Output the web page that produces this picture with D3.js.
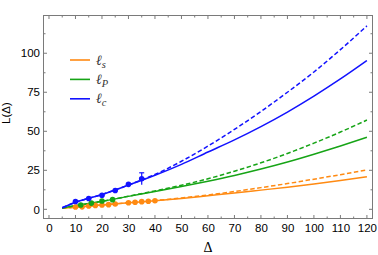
<!DOCTYPE html>
<html>
<head>
<meta charset="utf-8">
<script src="https://cdn.jsdelivr.net/npm/d3@7"></script>
<style>
  html, body { margin: 0; padding: 0; background: #fff; }
  svg { display: block; }
</style>
</head>
<body>
<div id="chart"></div>
<script>
// curves, sampled by eye off the reference
const deltaGrid = [5, 10, 20, 30, 40, 50, 60, 70, 80, 90, 100, 110, 120]
const blueSolid = [1.0, 4.5, 9.5, 15.5, 21.8, 28.8, 36.7, 44.5, 53.0, 62.3, 72.5, 83.5, 95.3]
const blueDashed = [1.0, 4.5, 9.5, 15.6, 22.3, 30.8, 40.5, 51.2, 62.7, 75.0, 88.0, 102.3, 117.5]
const greenSolid = [0.9, 2.3, 5.1, 8.3, 11.4, 14.6, 18.0, 21.7, 25.8, 30.3, 35.3, 40.6, 46.2]
const greenDashed = [0.9, 2.3, 5.1, 8.4, 11.8, 15.4, 19.6, 24.4, 29.8, 35.8, 42.4, 49.5, 57.2]
const orangeSolid = [0.7, 1.4, 2.8, 4.2, 5.5, 7.0, 8.7, 10.4, 12.3, 14.2, 16.2, 18.4, 20.9]
const orangeDashed = [0.7, 1.4, 2.8, 4.2, 5.6, 7.3, 9.2, 11.4, 13.9, 16.5, 19.3, 22.2, 25.2]

// measured points
const blueX = [10, 15, 20, 25, 30, 35]
const blueY = [5.0, 6.9, 9.0, 12.1, 16.0, 19.6]
const blueErr = [0, 0, 0, 0, 0, 3.8]
const greenX = [12, 16, 20, 24]
const greenY = [2.8, 4.0, 5.3, 6.2]
const orangeX = [10, 12.5, 15, 17.5, 20, 22.5, 25, 30, 32.5, 35, 37.5, 40]
const orangeY = [1.5, 1.6, 2.1, 2.5, 2.8, 3.0, 3.4, 4.2, 4.5, 4.9, 5.2, 5.5]

const xTicks = [0, 10, 20, 30, 40, 50, 60, 70, 80, 90, 100, 110, 120]
const yTicks = [0, 25, 50, 75, 100]
const legendLabels = ["s", "P", "c"]

const colors = {
  orange: "#ff8a12",
  green: "#16a416",
  blue: "#1212ff"
}

const width = 378
const height = 255
const frame = { left: 43, right: 373, top: 15, bottom: 219 }

const svg = d3.select("#chart")
  .append("svg")
  .attr("width", width)
  .attr("height", height)
  .attr("viewBox", [0, 0, width, height])

const x = d3.scaleLinear().domain([-2.26, 122.3]).range([frame.left, frame.right])
const y = d3.scaleLinear().domain([-6.2, 124.5]).range([frame.bottom, frame.top])

const axisColor = "#7a7a7a"
const fontFamily = "'Liberation Sans', Arial, sans-serif"
const serif = "'Liberation Serif', 'DejaVu Serif', serif"

// frame + ticks on all four sides, pointing inward
const xMinor = d3.range(0, 121, 5).filter(v => v % 10 !== 0)
const yMinor = d3.range(12.5, 121, 25)

const axes = svg.append("g")

function xAxisAt(yPos, dir, labels) {
  const g = axes.append("g").attr("transform", `translate(0,${yPos})`)
  g.call(d3.axisBottom(x).tickValues(xTicks).tickSize(0))
  g.select(".domain").remove()
  g.selectAll(".tick line").remove()
  xTicks.forEach(v => {
    g.append("line").attr("x1", x(v)).attr("x2", x(v)).attr("y1", 0).attr("y2", dir * 4)
      .attr("stroke", axisColor).attr("stroke-width", 1)
  })
  xMinor.forEach(v => {
    g.append("line").attr("x1", x(v)).attr("x2", x(v)).attr("y1", 0).attr("y2", dir * 2.5)
      .attr("stroke", axisColor).attr("stroke-width", 1)
  })
  if (labels) {
    g.selectAll(".tick text")
      .attr("y", 5)
      .attr("dy", "0.71em")
      .attr("font-size", "11.5px")
      .attr("font-family", fontFamily)
      .attr("fill", "#000")
  } else {
    g.selectAll(".tick text").remove()
  }
}

function yAxisAt(xPos, dir, labels) {
  const g = axes.append("g").attr("transform", `translate(${xPos},0)`)
  g.call(d3.axisLeft(y).tickValues(yTicks).tickSize(0))
  g.select(".domain").remove()
  g.selectAll(".tick line").remove()
  yTicks.forEach(v => {
    g.append("line").attr("y1", y(v)).attr("y2", y(v)).attr("x1", 0).attr("x2", dir * 4)
      .attr("stroke", axisColor).attr("stroke-width", 1)
  })
  yMinor.forEach(v => {
    g.append("line").attr("y1", y(v)).attr("y2", y(v)).attr("x1", 0).attr("x2", dir * 2.5)
      .attr("stroke", axisColor).attr("stroke-width", 1)
  })
  if (labels) {
    g.selectAll(".tick text")
      .attr("x", -3)
      .attr("font-size", "11.5px")
      .attr("font-family", fontFamily)
      .attr("fill", "#000")
  } else {
    g.selectAll(".tick text").remove()
  }
}

xAxisAt(frame.bottom, -1, true)
xAxisAt(frame.top, 1, false)
yAxisAt(frame.left, 1, true)
yAxisAt(frame.right, -1, false)

axes.append("rect")
  .attr("x", frame.left + 0.5)
  .attr("y", frame.top + 0.5)
  .attr("width", frame.right - frame.left - 1)
  .attr("height", frame.bottom - frame.top - 1)
  .attr("fill", "none")
  .attr("stroke", axisColor)
  .attr("stroke-width", 1)

// axis titles
svg.append("text")
  .attr("x", x(60))
  .attr("y", 247)
  .attr("dy", "0.35em")
  .attr("text-anchor", "middle")
  .attr("font-size", "14px")
  .attr("font-family", serif)
  .text("Δ")

svg.append("text")
  .attr("transform", `translate(10,${(frame.top + frame.bottom) / 2 - 4}) rotate(-90)`)
  .attr("text-anchor", "middle")
  .attr("font-size", "11.5px")
  .attr("font-family", fontFamily)
  .text("L(Δ)")

// curves
const plot = svg.append("g")
const line = d3.line()
  .x(d => x(d[0]))
  .y(d => y(d[1]))
  .curve(d3.curveMonotoneX)

const curves = [
  { vals: orangeDashed, color: colors.orange, dash: "4.5,2.5" },
  { vals: orangeSolid, color: colors.orange, dash: null },
  { vals: greenDashed, color: colors.green, dash: "4.5,2.5" },
  { vals: greenSolid, color: colors.green, dash: null },
  { vals: blueDashed, color: colors.blue, dash: "4.5,2.5" },
  { vals: blueSolid, color: colors.blue, dash: null }
]

curves.forEach(c => {
  plot.append("path")
    .datum(deltaGrid.map((d, i) => [d, c.vals[i]]))
    .attr("fill", "none")
    .attr("stroke", c.color)
    .attr("stroke-width", 1.5)
    .attr("stroke-dasharray", c.dash)
    .attr("d", line)
})

// points
const series = [
  { xs: orangeX, ys: orangeY, errs: null, color: colors.orange },
  { xs: greenX, ys: greenY, errs: null, color: colors.green },
  { xs: blueX, ys: blueY, errs: blueErr, color: colors.blue }
]

series.forEach(s => {
  const g = plot.append("g")
  if (s.errs) {
    s.xs.forEach((d, i) => {
      const e = s.errs[i]
      if (!e) return
      g.append("line")
        .attr("x1", x(d)).attr("x2", x(d))
        .attr("y1", y(s.ys[i] - e)).attr("y2", y(s.ys[i] + e))
        .attr("stroke", s.color).attr("stroke-width", 1.2)
      g.append("line")
        .attr("x1", x(d) - 2.5).attr("x2", x(d) + 2.5)
        .attr("y1", y(s.ys[i] + e)).attr("y2", y(s.ys[i] + e))
        .attr("stroke", s.color).attr("stroke-width", 1.2)
    })
  }
  g.selectAll("circle")
    .data(s.xs.map((d, i) => [d, s.ys[i]]))
    .join("circle")
    .attr("cx", d => x(d[0]))
    .attr("cy", d => y(d[1]))
    .attr("r", 2.8)
    .attr("fill", s.color)
})

// legend
const legendColors = [colors.orange, colors.green, colors.blue]
const legend = svg.append("g")
legendLabels.forEach((lab, i) => {
  const ly = 60 + i * 19.4
  legend.append("line")
    .attr("x1", 70).attr("x2", 90)
    .attr("y1", ly).attr("y2", ly)
    .attr("stroke", legendColors[i])
    .attr("stroke-width", 1.6)
  const t = legend.append("text")
    .attr("x", 96)
    .attr("y", ly + 4.5)
    .attr("font-size", "14px")
    .attr("font-style", "italic")
    .attr("font-family", serif)
    .attr("fill", "#333")
  t.append("tspan").text("ℓ")
  t.append("tspan")
    .attr("dy", 3)
    .attr("font-size", "10.5px")
    .text(lab)
})
</script>
</body>
</html>
